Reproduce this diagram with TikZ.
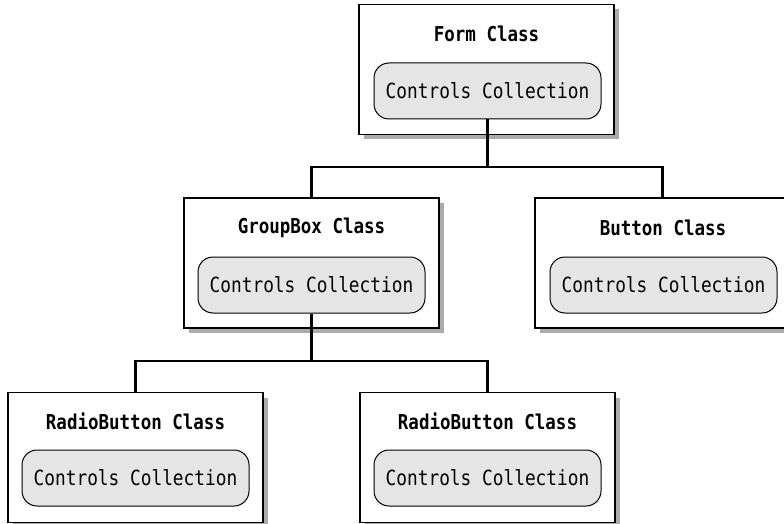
\documentclass[tikz,border=0pt]{standalone}
\usepackage{fontspec}
\usepackage{graphicx}
\setmonofont{DejaVu Sans Mono}
\usetikzlibrary{shadows}
\newcommand{\tallt}[1]{\scalebox{1}[1.17]{#1}}
\tikzset{
  x=1pt, y=-1pt,
  classbox/.style={draw=black, line width=1.3pt, fill=white, minimum width=255pt, minimum height=130pt, inner sep=0pt,
    drop shadow={shadow xshift=5pt, shadow yshift=-5pt, fill=black!33, opacity=1}},
  ccbox/.style={draw=black, line width=1pt, fill=black!10, rounded corners=15pt, minimum width=227pt, minimum height=56pt, inner sep=0pt, font=\ttfamily\fontsize{17.8}{20}\selectfont},
  title/.style={font=\ttfamily\bfseries\fontsize{17.5}{20}\selectfont, inner sep=0pt},
  conn/.style={line width=2.6pt, line cap=butt}
}
\begin{document}
\begin{tikzpicture}
\clip (0,0) rectangle (784,524);
\fill[white] (0,0) rectangle (784,524);
% Form
\node[classbox] (form) at (486.5,69.5) {};
\node[title] (formt) at (486.5,34) {\tallt{Form Class}};
\node[ccbox] (formcc) at (487.5,91) {\tallt{Controls Collection}};
% GroupBox
\node[classbox] (gb) at (311.5,263) {};
\node[title] (gbt) at (311.5,228) {\tallt{GroupBox Class}};
\node[ccbox] (gbcc) at (311.5,285) {\tallt{Controls Collection}};
% Button
\node[classbox] (btn) at (662.5,263) {};
\node[title] (btnt) at (663,228) {\tallt{Button Class}};
\node[ccbox] (btncc) at (663.5,285) {\tallt{Controls Collection}};
% RadioButton 1
\node[classbox] (rb1) at (135.5,457.5) {};
\node[title] (rb1t) at (135.5,421) {\tallt{RadioButton Class}};
\node[ccbox] (rb1cc) at (135.5,478) {\tallt{Controls Collection}};
% RadioButton 2
\node[classbox] (rb2) at (487.5,457.5) {};
\node[title] (rb2t) at (487.5,421) {\tallt{RadioButton Class}};
\node[ccbox] (rb2cc) at (487.5,478) {\tallt{Controls Collection}};
% connectors
\coordinate (j1) at (487.5,167);
\coordinate (j2) at (311.5,361);
\draw[conn] (formcc.south) -- (j1);
\draw[conn] (gb.north) |- (j1) -| (btn.north);
\draw[conn] (gbcc.south) -- (j2);
\draw[conn] (rb1.north) |- (j2) -| (rb2.north);
\end{tikzpicture}
\end{document}
